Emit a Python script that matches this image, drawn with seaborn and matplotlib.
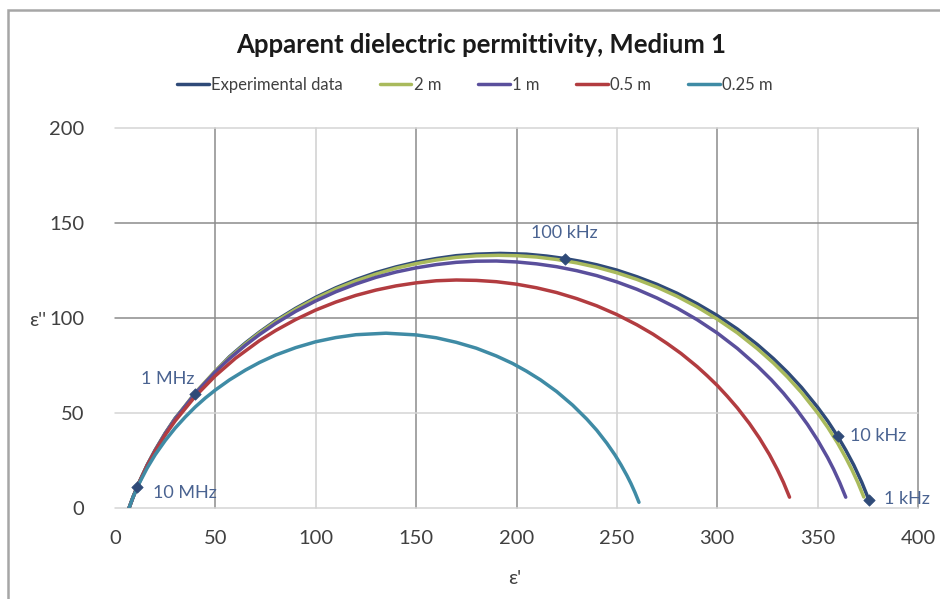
import matplotlib
matplotlib.use("Agg")
import matplotlib.pyplot as plt
import seaborn as sns
import pandas as pd
from matplotlib.patches import Rectangle
from matplotlib.lines import Line2D

# Cole-Cole arcs: real part (eps') and imaginary part (eps'') per series
exp_eps1 = [7, 9, 11, 16, 20, 25, 30, 40, 50, 57, 65, 72, 80, 90, 100, 110, 120, 130, 140, 150,
            160, 170, 180, 192, 205, 215, 224, 232, 240, 250, 260, 270, 280, 290, 300, 310, 320, 328, 335, 342,
            350, 355, 360, 364, 368, 372, 375.5]
exp_eps2 = [0, 5.8, 11.0, 22.6, 30.5, 39.4, 47.3, 60.0, 72.0, 79.6, 86.9, 92.6, 98.6, 105.1, 110.9, 115.9, 120.2, 123.9, 126.9, 129.4,
            131.3, 132.8, 133.6, 134.0, 133.6, 132.6, 131.3, 129.8, 128.0, 125.2, 121.7, 117.7, 113.0, 107.5, 101.3, 94.2, 86.0, 78.6, 71.4, 63.4,
            53.0, 45.8, 37.7, 30.5, 22.6, 13.5, 4.4]

m2_eps1 = [7, 9, 12, 16, 20, 25, 30, 40, 50, 57, 65, 72, 80, 90, 100, 110, 120, 130, 140, 150,
           160, 170, 180, 191, 200, 210, 220, 230, 240, 250, 260, 270, 280, 290, 300, 310, 320, 328, 335, 342,
           350, 355, 360, 364, 367, 370, 373]
m2_eps2 = [0, 5.8, 13.5, 22.5, 30.4, 39.2, 47.1, 60.7, 72.2, 79.2, 86.4, 92.2, 98.1, 104.6, 110.3, 115.3, 119.5, 123.1, 126.2, 128.6,
           130.5, 131.9, 132.7, 133.0, 132.8, 132.1, 130.8, 129.0, 126.7, 123.8, 120.3, 116.2, 111.4, 105.8, 99.4, 92.2, 83.8, 76.3, 68.9, 60.7,
           50.0, 42.5, 34.1, 26.5, 20.3, 13.5, 5.8]

m1_eps1 = [7, 9, 12, 16, 20, 25, 30, 40, 50, 57, 65, 72, 80, 90, 100, 110, 120, 130, 140, 150,
           160, 170, 180, 190, 200, 210, 220, 230, 240, 250, 260, 270, 280, 290, 300, 310, 320, 327, 333, 339,
           345, 350, 355, 358, 361, 364]
m1_eps2 = [0, 5.7, 13.4, 22.4, 30.3, 39.1, 46.9, 60.4, 71.7, 78.6, 85.7, 91.3, 97.1, 103.5, 109.0, 113.8, 117.9, 121.4, 124.2, 126.4,
           128.1, 129.3, 129.9, 130.0, 129.5, 128.5, 127.0, 124.9, 122.3, 119.0, 115.1, 110.5, 105.2, 99.1, 92.1, 84.0, 74.7, 67.4, 60.4, 52.6,
           43.9, 35.7, 26.5, 20.3, 13.4, 5.7]

m05_eps1 = [7, 9, 12, 16, 20, 25, 30, 40, 50, 60, 72, 80, 90, 100, 110, 120, 130, 140, 150, 160, 170, 180,
            190, 200, 210, 220, 230, 240, 250, 260, 268, 275, 282, 290, 295, 300, 305, 310, 316, 321, 326, 330, 333, 336]
m05_eps2 = [0, 5.7, 13.4, 22.2, 29.9, 38.4, 45.9, 58.8, 69.6, 78.8, 88.1, 93.4, 99.2, 104.2, 108.4, 111.9, 114.7,
            116.9, 118.5, 119.6, 120.0, 119.8, 119.1, 117.8, 115.9, 113.4, 110.2, 106.4, 101.8, 96.4, 91.5, 86.6,
            81.3, 74.4, 69.6, 64.5, 58.8, 52.7, 44.5, 36.8, 28.1, 20.1, 13.4, 5.7]

m025_eps1 = [7, 9, 12, 16, 20, 25, 30, 35, 40, 45, 50, 57, 65, 72, 80, 90, 100, 110, 120, 135, 150, 160, 170,
             180, 190, 198, 205, 212, 220, 228, 235, 240, 245, 249, 252, 255, 257, 259, 261]
m025_eps2 = [0, 5.7, 12.9, 21.0, 28.0, 35.5, 42.1, 47.9, 53.2, 57.9, 62.1, 67.4, 72.6, 76.6, 80.5, 84.4, 87.5,
             89.7, 91.2, 92.0, 91.1, 89.6, 87.2, 84.1, 80.0, 76.1, 72.0, 67.4, 61.3, 54.1, 46.8, 40.9, 34.1,
             28.0, 22.8, 17.1, 12.9, 8.2, 3.0]

series_names = ["Experimental data", "2 m", "1 m", "0.5 m", "0.25 m"]
series_colors = ["#2f4a78", "#a9ba5c", "#5a4f9c", "#b23c40", "#3f8ba5"]

# Frequency markers on the measured curve
freq_labels = ["10 MHz", "1 MHz", "100 kHz", "10 kHz", "1 kHz"]
freq_eps1 = [11, 40, 224, 360, 375.5]
freq_eps2 = [11.0, 60.0, 131.3, 37.7, 4.4]
label_eps1 = [19, 13, 207, 366, 383]
label_eps2 = [8, 68, 145, 38, 5]

x_ticks = [0, 50, 100, 150, 200, 250, 300, 350, 400]
y_ticks = [0, 50, 100, 150, 200]

frames = []
for name, xs, ys in zip(series_names,
                        [exp_eps1, m2_eps1, m1_eps1, m05_eps1, m025_eps1],
                        [exp_eps2, m2_eps2, m1_eps2, m05_eps2, m025_eps2]):
    frames.append(pd.DataFrame({"eps1": xs, "eps2": ys, "series": name}))
df = pd.concat(frames, ignore_index=True)
marks = pd.DataFrame({"eps1": freq_eps1, "eps2": freq_eps2, "freq": freq_labels})

sns.set_theme(style="white")
plt.rcParams["font.family"] = ["Lato", "DejaVu Sans"]

fig = plt.figure(figsize=(9.40, 5.99), dpi=100)
ax = fig.add_axes([115 / 940, 1 - 508 / 599, (918 - 115) / 940, (508 - 128) / 599])

sns.lineplot(data=df, x="eps1", y="eps2", hue="series", hue_order=series_names,
             palette=series_colors, sort=False, estimator=None, linewidth=2.5,
             legend=False, ax=ax)
for ln in ax.get_lines():
    ln.set_solid_joinstyle("round")
    ln.set_solid_capstyle("round")
sns.scatterplot(data=marks, x="eps1", y="eps2", marker="D", s=34,
                color=series_colors[0], edgecolor=series_colors[0], zorder=5,
                legend=False, ax=ax)

for txt, lx, ly in zip(freq_labels, label_eps1, label_eps2):
    ax.text(lx, ly, txt, ha="left", va="center", fontsize=13, color="#4a6391")

ax.set_xlim(0, 400)
ax.set_ylim(0, 200)
ax.set_xticks(x_ticks)
ax.set_yticks(y_ticks)
ax.set_xlabel("")
ax.set_ylabel("")
ax.tick_params(axis="both", length=0, labelsize=14.5, labelcolor="#404040")
ax.tick_params(axis="x", pad=16)
ax.tick_params(axis="y", pad=22)
for s in ax.spines.values():
    s.set_visible(False)

ax.grid(True, linewidth=1.1)
strong_x = {50, 150, 200, 300, 400}
strong_y = {100, 150}
for val, gl in zip(x_ticks, ax.xaxis.get_gridlines()):
    gl.set_color("#8c8c8c" if val in strong_x else "#cfcfcf")
    if val == 0:
        gl.set_visible(False)
for val, gl in zip(y_ticks, ax.yaxis.get_gridlines()):
    gl.set_color("#8c8c8c" if val in strong_y else "#d4d4d4")
for gl in ax.xaxis.get_gridlines() + ax.yaxis.get_gridlines():
    gl.set_clip_on(False)
ax.set_axisbelow(True)

fig.text(38 / 940, 1 - 320 / 599, "ε''", ha="center", va="center", fontsize=14.5, color="#404040")
fig.text(515 / 940, 1 - 578 / 599, "ε'", ha="center", va="center", fontsize=14.5, color="#404040")

fig.text(481 / 940, 1 - 45 / 599, "Apparent dielectric permittivity, Medium 1",
         ha="center", va="center", fontsize=18.5, fontweight="bold", color="#1a1a1a")

handles = [Line2D([0], [0], color=c, lw=2.5) for c in series_colors]
fig.legend(handles, series_names, loc="center", bbox_to_anchor=(475 / 940, 1 - 85 / 599),
           ncol=5, frameon=False, fontsize=12, handlelength=1.9, handletextpad=0.15,
           columnspacing=2.2, labelcolor="#404040")

fig.patches.append(Rectangle((8 / 940, -0.2), 1.2, 0.2 + (1 - 10 / 599), transform=fig.transFigure,
                             fill=False, edgecolor="#a6a6a6", linewidth=1.8, zorder=0))

fig.savefig("out.png", dpi=100, facecolor="white")
